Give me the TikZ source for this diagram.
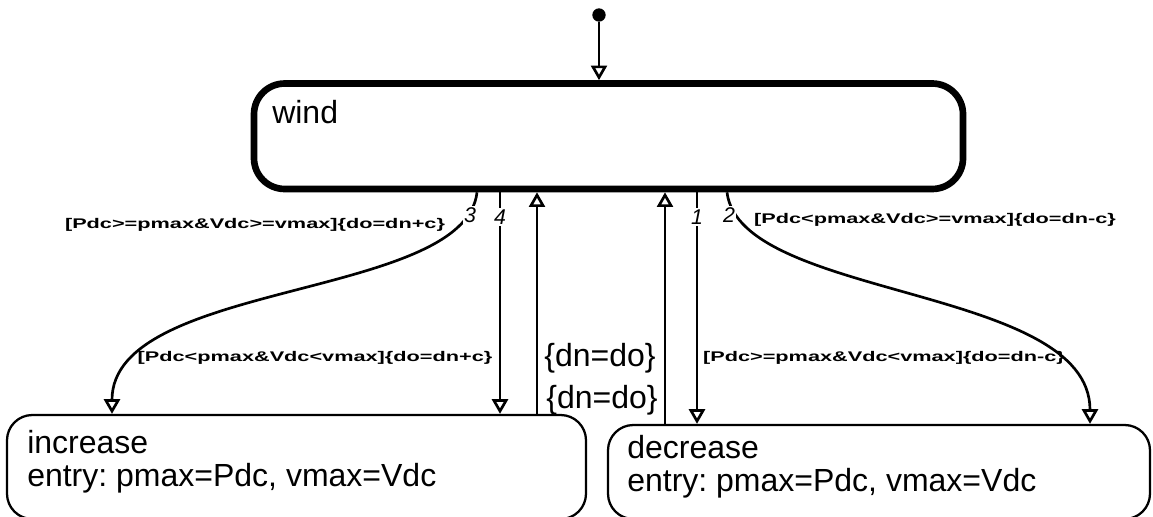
\documentclass[tikz,border=0pt]{standalone}
\usepackage{fontspec}
\setmainfont{Liberation Sans}
\usepackage{graphicx}
\usetikzlibrary{arrows.meta}

\newcommand{\guard}[1]{\scalebox{1.55}[1]{\fontsize{10.5}{12}\selectfont\bfseries #1}}

\tikzset{
  state/.style={draw, rounded corners=19pt, line width=1.7pt, inner sep=0pt},
  trans/.style={line width=2pt, -{Triangle[open,length=11pt,width=12pt]}},
  big/.style={font=\fontsize{24}{29}\selectfont\frenchspacing, inner sep=0pt, anchor=base west},
  guardlbl/.style={inner sep=0pt},
  num/.style={font=\fontsize{16}{18}\selectfont\itshape, fill=white, inner sep=1pt}
}

\begin{document}
\begin{tikzpicture}[x=0.75pt,y=-0.75pt]
            \useasboundingbox (0,0) rectangle (1153,517);

            % Estados
            \node[state, line width=5pt, rounded corners=23pt, minimum width=531.75pt, minimum height=79.1pt] (wind) at (608.5,136.25) {};
            \node[state, minimum width=434.25pt, minimum height=78pt] (increase) at (296.5,467) {};
            \node[state, minimum width=406.5pt, minimum height=70.5pt] (decrease) at (879,472) {};

            % Textos de los estados
            \node[big] (windname) at (272,123) {wind};
            \node[big] (incname) at (27,453) {increase};
            \node[big] (incentry) at (27,486) {entry: pmax=Pdc, vmax=Vdc};
            \node[big] (decname) at (627,458) {decrease};
            \node[big] (decentry) at (627,491) {entry: pmax=Pdc, vmax=Vdc};

            % Estado inicial
            \node[circle, fill, inner sep=0pt, minimum size=10pt] (init) at (599,15) {};
            \draw[trans] (init) -- (init |- wind.north);

            % Transiciones desde wind
            \draw[trans] (477,0 |- wind.south) .. controls (465,300) and (112,280) .. (112,0 |- increase.north);
            \draw[trans] (500,0 |- wind.south) -- (500,0 |- increase.north);
            \draw[trans] (697,0 |- wind.south) -- (697,0 |- decrease.north);
            \draw[trans] (727,0 |- wind.south) .. controls (740,300) and (1090,285) .. (1090,0 |- decrease.north);

            % Transiciones de vuelta a wind
            \draw[trans] (537,0 |- increase.north) -- (537,0 |- wind.south);
            \draw[trans] (665,0 |- decrease.north) -- (665,0 |- wind.south);

            % Numeros de prioridad
            \foreach \n/\x/\y in {3/470/215, 4/500/217, 1/697/217, 2/729/215} {
                \node[num] (n\n) at (\x,\y) {\n};
            }

            % Guardas y acciones
            \node[guardlbl] (g1) at (255,225) {\guard{[Pdc>=pmax\&Vdc>=vmax]\{do=dn+c\}}};
            \node[guardlbl] (g2) at (935,220) {\guard{[Pdc<pmax\&Vdc>=vmax]\{do=dn-c\}}};
            \node[guardlbl] (g3) at (315,358) {\guard{[Pdc<pmax\&Vdc<vmax]\{do=dn+c\}}};
            \node[guardlbl] (g4) at (884,358) {\guard{[Pdc>=pmax\&Vdc<vmax]\{do=dn-c\}}};
            \node[big, anchor=center] (act1) at (600,358) {\{dn=do\}};
            \node[big, anchor=center] (act2) at (602,400) {\{dn=do\}};
        \end{tikzpicture}
\end{document}
